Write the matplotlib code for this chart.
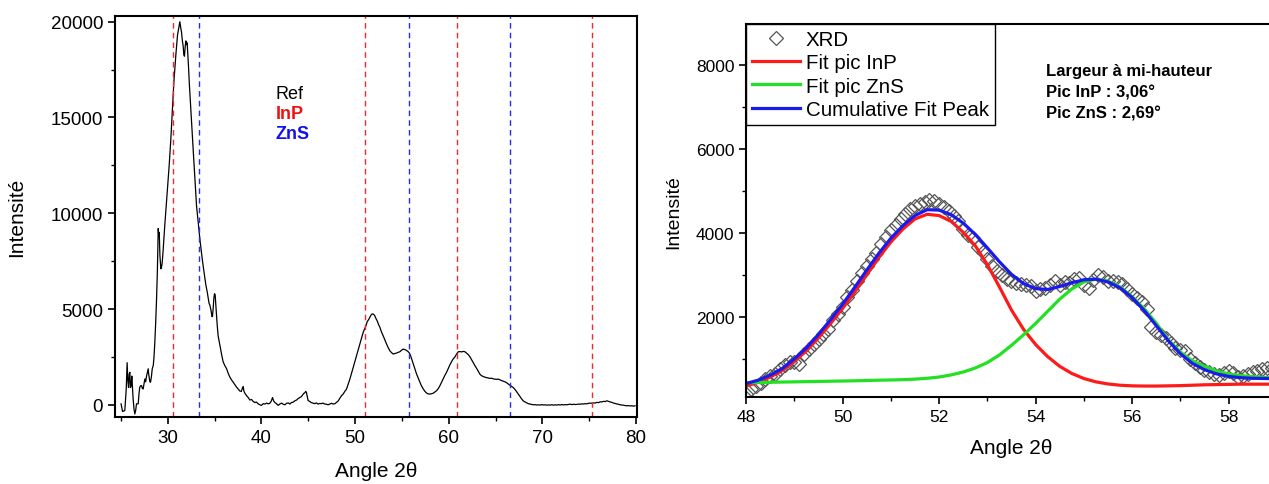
import matplotlib
matplotlib.use("Agg")
import matplotlib.pyplot as plt
from matplotlib.ticker import MultipleLocator

plt.rcParams['font.family'] = ['Liberation Sans', 'DejaVu Sans']

# ---- left panel: full XRD pattern ----
angle = [25.0, 25.16, 25.4, 25.55, 25.65, 25.72, 25.8, 25.87, 25.94, 26.0, 26.08, 26.15, 26.22, 26.29,
         26.38, 26.47, 26.56, 26.65, 26.83, 26.92, 27.0, 27.1, 27.19, 27.28, 27.36, 27.45, 27.54, 27.63,
         27.72, 27.81, 27.9, 27.95, 28.0, 28.08, 28.15, 28.25, 28.33, 28.44, 28.52, 28.61, 28.7, 28.79,
         28.88, 28.97, 29.03, 29.08, 29.15, 29.25, 29.33, 29.4, 29.5, 29.57, 29.66, 29.75, 29.84, 29.93,
         30.04, 30.14, 30.23, 30.32, 30.41, 30.5, 30.57, 30.64, 30.75, 30.85, 30.95, 31.03, 31.15, 31.28,
         31.37, 31.46, 31.55, 31.64, 31.7, 31.77, 31.85, 31.92, 31.99, 32.06, 32.13, 32.2, 32.3, 32.43,
         32.55, 32.7, 32.88, 33.06, 33.24, 33.42, 33.6, 33.77, 33.92, 34.06, 34.2, 34.31, 34.4, 34.49,
         34.62, 34.72, 34.77, 34.85, 34.91, 34.98, 35.05, 35.12, 35.2, 35.28, 35.37, 35.5, 35.63, 35.77,
         35.9, 36.08, 36.26, 36.44, 36.62, 36.8, 36.98, 37.16, 37.34, 37.52, 37.69, 37.85, 37.98, 38.05,
         38.12, 38.23, 38.4, 38.58, 38.76, 38.94, 39.1, 39.29, 39.47, 39.65, 39.83, 40.0, 40.18, 40.36,
         40.54, 40.72, 40.89, 41.05, 41.18, 41.3, 41.43, 41.6, 41.78, 41.96, 42.14, 42.32, 42.5, 42.68,
         42.86, 43.03, 43.2, 43.4, 43.56, 43.75, 43.9, 44.09, 44.25, 44.4, 44.52, 44.62, 44.72, 44.8,
         44.9, 44.98, 45.15, 45.3, 45.51, 45.7, 45.87, 46.05, 46.22, 46.4, 46.58, 46.75, 46.95, 47.12,
         47.3, 47.48, 47.65, 47.85, 48.0, 48.19, 48.35, 48.55, 48.72, 48.9, 49.08, 49.26, 49.44, 49.62,
         49.79, 49.97, 50.15, 50.33, 50.5, 50.68, 50.86, 51.0, 51.15, 51.3, 51.45, 51.6, 51.75, 51.87,
         51.94, 52.03, 52.11, 52.23, 52.36, 52.5, 52.65, 52.82, 53.0, 53.18, 53.36, 53.54, 53.71, 53.9,
         54.07, 54.25, 54.43, 54.6, 54.78, 54.96, 55.14, 55.3, 55.43, 55.55, 55.68, 55.8, 55.93, 56.07,
         56.22, 56.4, 56.57, 56.75, 56.93, 57.1, 57.29, 57.46, 57.64, 57.82, 58.0, 58.18, 58.36, 58.54,
         58.71, 58.9, 59.06, 59.25, 59.45, 59.6, 59.77, 59.95, 60.12, 60.3, 60.48, 60.66, 60.84, 61.02,
         61.2, 61.38, 61.55, 61.73, 61.9, 62.09, 62.27, 62.45, 62.62, 62.8, 62.98, 63.15, 63.33, 63.5,
         63.7, 63.87, 64.05, 64.23, 64.41, 64.6, 64.77, 64.95, 65.12, 65.3, 65.48, 65.66, 65.84, 66.01,
         66.19, 66.37, 66.55, 66.72, 66.9, 67.08, 67.26, 67.44, 67.62, 67.8, 67.97, 68.15, 68.33, 68.5,
         68.69, 68.87, 69.05, 69.23, 69.4, 69.58, 69.76, 69.94, 70.12, 70.3, 70.48, 70.66, 70.83, 71.01,
         71.2, 71.37, 71.54, 71.72, 71.9, 72.08, 72.25, 72.43, 72.6, 72.79, 72.97, 73.15, 73.32, 73.5,
         73.68, 73.86, 74.04, 74.22, 74.39, 74.57, 74.75, 74.93, 75.1, 75.28, 75.46, 75.64, 75.82, 76.0,
         76.17, 76.35, 76.53, 76.71, 76.89, 77.07, 77.24, 77.42, 77.6, 77.78, 77.96, 78.13, 78.31, 78.49,
         78.67, 78.85, 79.03, 79.2, 79.38, 79.56, 79.74, 79.9]
intens = [50, -350, -300, 800, 2200, 1300, 900, 1600, 1700, 900, 1000, 1500, 900, 300,
          -200, -480, -300, 50, 50, 600, 920, 1000, 1000, 850, 830, 1100, 1350, 1200,
          1500, 1700, 1880, 1600, 1440, 1200, 1180, 1500, 1880, 2050, 2500, 3300, 4300, 5500,
          7000, 9200, 8800, 9000, 7800, 7100, 7200, 7450, 8100, 8650, 9300, 9900, 10500, 11100,
          11800, 12500, 13200, 13900, 14700, 15450, 16200, 16850, 17600, 18250, 18800, 19300, 19650, 20000,
          19700, 19450, 19000, 18700, 18300, 18200, 18700, 19000, 18800, 18900, 18300, 17700, 16700, 15600,
          14500, 13350, 11900, 10400, 9500, 8650, 7900, 7250, 6750, 6250, 5900, 5550, 5300, 5200,
          4900, 4600, 4650, 5100, 5550, 5800, 5750, 5200, 4650, 4100, 3600, 3250, 2900, 2550,
          2250, 2050, 1900, 1650, 1450, 1300, 1180, 1050, 920, 820, 720, 700, 900, 950,
          720, 600, 480, 380, 250, 280, 180, 120, 140, 50, 0, -30, 60, 40,
          90, 50, 80, 200, 380, 200, 120, 60, -30, 40, 90, 30, 0, 80,
          100, 40, 120, 140, 210, 250, 320, 380, 420, 520, 600, 620, 700, 650,
          400, 220, 180, 120, 90, 60, 100, 40, 70, 60, 90, 40, 30, 0,
          40, 80, 40, 60, 120, 200, 330, 480, 560, 700, 820, 1080, 1340, 1650,
          1950, 2250, 2560, 2860, 3170, 3470, 3780, 3950, 4120, 4350, 4450, 4600, 4720, 4750,
          4730, 4700, 4640, 4500, 4380, 4200, 4040, 3800, 3600, 3380, 3170, 2980, 2820, 2720,
          2650, 2680, 2700, 2740, 2770, 2850, 2910, 2880, 2860, 2820, 2770, 2700, 2560, 2350,
          2120, 1860, 1600, 1380, 1170, 980, 820, 700, 610, 570, 560, 580, 610, 680,
          740, 860, 1000, 1200, 1400, 1550, 1700, 1900, 2080, 2250, 2400, 2500, 2650, 2770,
          2780, 2760, 2790, 2770, 2700, 2620, 2500, 2350, 2200, 2040, 1900, 1750, 1600, 1520,
          1480, 1440, 1420, 1400, 1380, 1390, 1350, 1340, 1330, 1340, 1300, 1260, 1230, 1200,
          1150, 1080, 1020, 960, 900, 800, 680, 550, 420, 300, 200, 150, 100, 60,
          40, 20, 0, 10, -10, 0, -15, 10, -10, 0, -20, -5, -15, 5,
          -20, 0, -15, 10, -10, 15, -5, 10, 0, 20, 35, 10, 30, 15,
          20, 40, 30, 50, 40, 60, 50, 80, 90, 80, 100, 90, 130, 110,
          160, 150, 180, 170, 210, 180, 150, 130, 90, 70, 40, 30, 0, -10,
          -20, -40, -50, -40, -60, -50, -70, -50]

inp_ref = [30.6, 51.1, 60.9, 75.3]
zns_ref = [33.3, 55.8, 66.5]

# ---- right panel: zoom 48-59 deg with peak fits ----
xrd_angle = [48.0 + 0.1 * i for i in range(110)]
xrd_int = [170, 280, 360, 440, 520, 600, 650, 760, 850, 940,
           930, 880, 1120, 1250, 1370, 1470, 1590, 1720, 1930, 2080,
           2250, 2470, 2640, 2850, 3050, 3230, 3390, 3530, 3740, 3900,
           4070, 4200, 4330, 4460, 4580, 4640, 4700, 4750, 4790, 4760,
           4700, 4620, 4520, 4420, 4290, 4110, 3960, 3880, 3680, 3560,
           3380, 3230, 3090, 3000, 2900, 2860, 2820, 2780, 2760, 2740,
           2620, 2660, 2700, 2760, 2850, 2760, 2830, 2820, 2900, 2940,
           2760, 2700, 2880, 3010, 2950, 2870, 2860, 2830, 2780, 2680,
           2560, 2450, 2370, 2190, 1760, 1650, 1580, 1500, 1390, 1270,
           1230, 1200, 1010, 900, 820, 750, 690, 650, 630, 680,
           720, 680, 580, 600, 650, 690, 720, 760, 790, 800]

fit_angle = [48.0 + 0.25 * i for i in range(45)]
fit_inp = [360, 450, 575, 730, 950, 1200, 1510, 1850, 2210, 2600, 3010, 3420, 3790, 4100, 4340,
           4450, 4420, 4280, 4020, 3700, 3250, 2720, 2170, 1710, 1350, 1060, 830, 660, 540, 460,
           410, 380, 365, 360, 360, 365, 370, 380, 390, 395, 400, 405, 405, 405, 405]
fit_zns = [440, 445, 450, 455, 460, 465, 470, 475, 480, 485, 492, 500, 505, 512, 525,
           545, 575, 625, 695, 790, 920, 1100, 1330, 1580, 1850, 2140, 2430, 2670, 2840, 2905,
           2860, 2720, 2490, 2200, 1860, 1460, 1170, 960, 830, 720, 650, 610, 585, 565, 555]
fit_cum = [420, 500, 620, 780, 1010, 1270, 1590, 1940, 2310, 2710, 3120, 3520, 3880, 4180, 4420,
           4560, 4550, 4440, 4240, 3970, 3650, 3320, 3020, 2800, 2680, 2660, 2730, 2820, 2890, 2905,
           2840, 2700, 2470, 2160, 1800, 1440, 1130, 900, 750, 650, 590, 560, 545, 540, 535]

fig = plt.figure(figsize=(12.69, 4.85), dpi=100)

# left
ax1 = fig.add_axes([0.0906, 0.138, 0.4113, 0.827])
ax1.plot(angle, intens, color='black', lw=0.9)
for a in inp_ref:
    ax1.axvline(a, color='#ee2a2a', lw=1.0, ls=(0, (4, 3)))
for a in zns_ref:
    ax1.axvline(a, color='#2a2aee', lw=1.0, ls=(0, (4, 3)))
ax1.set_xlim(24.35, 80.1)
ax1.set_ylim(-640, 20300)
ax1.xaxis.set_major_locator(MultipleLocator(10))
ax1.xaxis.set_minor_locator(MultipleLocator(5))
ax1.yaxis.set_major_locator(MultipleLocator(5000))
ax1.yaxis.set_minor_locator(MultipleLocator(2500))
ax1.tick_params(which='major', direction='out', length=5, width=1.2, labelsize=13.5)
ax1.tick_params(which='minor', direction='out', length=3, width=1.0)
for s in ax1.spines.values():
    s.set_linewidth(1.5)
ax1.set_xlabel('Angle 2θ', fontsize=15, labelpad=11)
ax1.set_ylabel('Intensité', fontsize=15, labelpad=18)
ax1.text(0.308, 0.795, 'Ref', transform=ax1.transAxes, fontsize=13, color='black')
ax1.text(0.308, 0.746, 'InP', transform=ax1.transAxes, fontsize=13, color='#ee1111', weight='bold')
ax1.text(0.308, 0.697, 'ZnS', transform=ax1.transAxes, fontsize=13, color='#1111ee', weight='bold')

# right
ax2 = fig.add_axes([0.588, 0.179, 0.417, 0.769])
ax2.plot(xrd_angle, xrd_int, ls='none', marker='D', markersize=7.5, mfc='none',
         mec='#555555', mew=0.9, label='XRD')
ax2.plot(fit_angle, fit_inp, color='#ff1a1a', lw=2.3, label='Fit pic InP')
ax2.plot(fit_angle, fit_zns, color='#22e022', lw=2.3, label='Fit pic ZnS')
ax2.plot(fit_angle, fit_cum, color='#1a1aee', lw=2.3, label='Cumulative Fit Peak')
ax2.set_xlim(48.0, 58.97)
ax2.set_ylim(95, 8976)
ax2.xaxis.set_major_locator(MultipleLocator(2))
ax2.xaxis.set_minor_locator(MultipleLocator(1))
ax2.yaxis.set_major_locator(MultipleLocator(2000))
ax2.yaxis.set_minor_locator(MultipleLocator(1000))
ax2.tick_params(which='major', direction='out', length=5, width=1.2, labelsize=12.5)
ax2.tick_params(which='minor', direction='out', length=3, width=1.0)
for s in ax2.spines.values():
    s.set_linewidth(1.5)
ax2.set_xlabel('Angle 2θ', fontsize=15, labelpad=10)
ax2.set_ylabel('Intensité', fontsize=14, labelpad=10)
leg = ax2.legend(loc='upper left', bbox_to_anchor=(0, 1), borderaxespad=0, fontsize=14.8,
                 labelspacing=0.2, handlelength=2.3, handletextpad=0.3, borderpad=0.3,
                 fancybox=False, framealpha=1, edgecolor='black')
leg.get_frame().set_linewidth(1.0)
ax2.text(0.567, 0.895, 'Largeur à mi-hauteur\nPic InP : 3,06°\nPic ZnS : 2,69°',
         transform=ax2.transAxes, fontsize=12, weight='bold', va='top', linespacing=1.5)

fig.savefig('out.png', dpi=100)
